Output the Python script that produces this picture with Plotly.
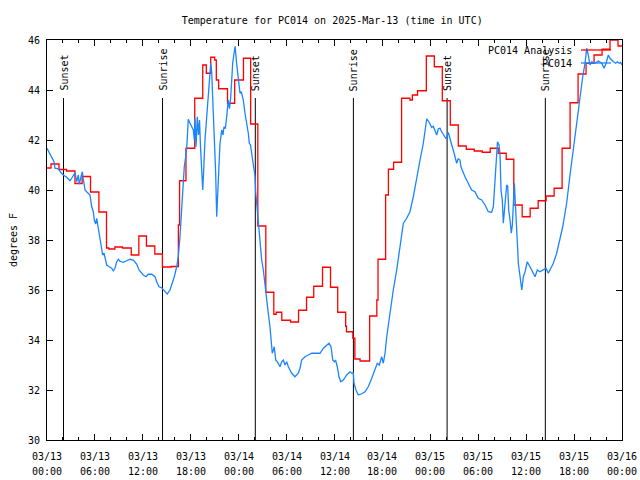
import pandas as pd
import plotly.graph_objects as go

START = pd.Timestamp("2025-03-13 00:00")
END = pd.Timestamp("2025-03-16 00:00")

# Analysis (step series): hours since start where a new value begins, and value
analysis_hours = [0.0, 0.5, 1.5, 2.45, 3.5, 4.4, 5.45, 6.5, 7.45, 7.75, 8.5, 9.45, 10.55, 11.5,
                  12.45, 13.5, 14.45, 15.55, 16.45, 16.6, 17.4, 18.5, 19.5, 19.95, 20.5, 21.0,
                  21.2, 21.5, 22.6, 23.5, 24.6, 25.5, 26.4, 27.4, 28.4, 28.7, 29.4, 30.5, 31.5,
                  32.5, 33.4, 34.5, 35.5, 36.4, 37.4, 37.5, 38.3, 38.55, 39.2, 40.4, 41.3, 41.45,
                  42.4, 42.75, 43.4, 44.4, 45.45, 45.75, 46.4, 47.5, 48.5, 49.5, 50.5, 51.5, 52.5,
                  53.5, 54.5, 55.5, 56.5, 57.5, 58.45, 59.5, 60.5, 61.5, 62.5, 63.5, 64.5, 65.5,
                  66.5, 67.5, 68.5, 69.5, 70.5, 71.5, 72.0]
analysis_temp = [40.88, 41.04, 40.82, 40.76, 40.26, 40.54, 39.92, 39.12, 37.68, 37.64, 37.72, 37.68,
                 37.40, 38.16, 37.76, 37.44, 36.92, 36.94, 38.6, 40.37, 41.67, 43.67, 45.0, 44.67,
                 45.31, 45.2, 44.4, 44.05, 43.47, 44.4, 45.27, 42.64, 38.56, 35.91, 35.03, 35.11,
                 34.79, 34.72, 35.19, 35.71, 36.15, 36.91, 36.11, 35.11, 34.55, 34.33, 34.07, 33.24,
                 33.16, 34.96, 35.6, 37.23, 39.8, 40.83, 41.11, 43.67, 43.6, 43.8, 43.97, 45.36,
                 44.93, 43.57, 42.6, 41.76, 41.63, 41.56, 41.51, 41.67, 41.47, 41.23, 39.4, 38.93,
                 39.27, 39.57, 39.76, 40.07, 41.67, 43.49, 44.64, 45.07, 45.4, 45.63, 46.0, 45.76,
                 45.76]

# Observations
obs_hours = [0.0, 0.25, 0.59, 0.88, 1.0, 1.42, 1.72, 2.04, 2.47, 2.88, 3.09, 3.29, 3.51, 3.72, 3.92,
             4.04, 4.42, 4.57, 4.76, 4.97, 5.38, 5.6, 5.8, 5.92, 6.1, 6.22, 6.35, 6.51, 6.64, 6.85,
             6.97, 7.14, 7.26, 7.48, 7.8, 8.1, 8.3, 8.51, 8.73, 8.93, 9.14, 9.55, 9.98, 10.39, 10.81,
             11.23, 11.52, 12.06, 12.4, 12.68, 13.11, 13.52, 13.74, 14.02, 14.36, 14.56, 14.78,
             15.06, 15.4, 15.69, 15.94, 16.24, 16.44, 16.65, 16.87, 17.07, 17.19, 17.37, 17.49,
             17.62, 17.69, 17.91, 18.12, 18.32, 18.45, 18.53, 18.66, 18.82, 18.97, 19.1, 19.22,
             19.37, 19.5, 19.62, 19.78, 20.0, 20.2, 20.41, 20.5, 20.62, 20.7, 20.82, 20.95, 21.12,
             21.25, 21.37, 21.5, 21.66, 21.88, 22.04, 22.16, 22.33, 22.5, 22.7, 22.85, 23.0, 23.13,
             23.25, 23.42, 23.56, 23.73, 23.83, 23.96, 24.17, 24.33, 24.58, 24.79, 25.01, 25.21,
             25.33, 25.48, 25.63, 25.8, 25.92, 26.05, 26.13, 26.26, 26.46, 26.67, 26.88, 27.09,
             27.3, 27.51, 27.71, 27.92, 28.05, 28.21, 28.34, 28.46, 28.64, 28.96, 29.18, 29.39,
             29.59, 29.8, 30.01, 30.22, 30.64, 31.05, 31.47, 31.68, 31.89, 32.31, 32.72, 33.15,
             33.56, 34.19, 34.6, 35.02, 35.31, 35.56, 35.78, 35.98, 36.13, 36.35, 36.56, 36.78,
             37.1, 37.53, 37.94, 38.2, 38.36, 38.44, 38.69, 38.98, 39.41, 39.82, 40.23, 40.66,
             41.07, 41.36, 41.61, 41.91, 42.11, 42.33, 42.54, 42.86, 43.16, 43.36, 43.79, 44.12,
             44.42, 44.62, 45.04, 45.45, 45.87, 46.29, 46.71, 47.12, 47.33, 47.55, 47.87, 48.17,
             48.37, 48.59, 48.8, 49.0, 49.21, 49.42, 49.71, 49.96, 50.25, 50.46, 50.68, 50.87,
             51.09, 51.3, 51.5, 51.71, 51.83, 52.04, 52.34, 52.75, 53.17, 53.59, 54.0, 54.43,
             54.85, 55.26, 55.68, 55.89, 56.1, 56.31, 56.41, 56.6, 56.72, 56.85, 57.01, 57.14,
             57.26, 57.44, 57.56, 57.69, 57.81, 57.98, 58.14, 58.27, 58.39, 58.52, 58.64, 58.77,
             58.9, 59.02, 59.15, 59.32, 59.45, 59.65, 59.86, 60.14, 60.39, 60.69, 61.11, 61.4,
             61.73, 62.15, 62.48, 62.77, 63.07, 63.4, 63.82, 64.24, 64.58, 64.86, 65.08, 65.49,
             65.91, 66.33, 66.74, 67.08, 67.37, 67.58, 67.78, 67.99, 68.21, 68.62, 69.04, 69.46,
             69.75, 70.0, 70.29, 70.5, 70.92, 71.21, 71.41, 71.66, 71.84, 72.0]
obs_temp = [41.67, 41.53, 41.33, 41.13, 40.87, 40.85, 40.71, 40.6, 40.51, 40.37, 40.47, 40.6, 40.69,
            40.33, 40.6, 40.24, 40.73, 40.4, 40.0, 39.93, 39.8, 39.33, 39.13, 38.8, 38.64, 38.87,
            38.6, 38.4, 38.0, 37.73, 37.4, 37.47, 37.27, 37.0, 36.93, 36.87, 36.77, 36.87, 37.13,
            37.23, 37.15, 37.11, 37.17, 37.23, 37.2, 37.04, 36.8, 36.6, 36.53, 36.63, 36.63, 36.53,
            36.33, 36.13, 36.09, 36.03, 35.93, 35.84, 36.0, 36.24, 36.53, 36.93, 37.33, 38.13,
            39.2, 39.93, 40.93, 41.33, 41.67, 42.4, 42.83, 42.67, 42.53, 42.4, 42.0, 42.87, 41.73,
            42.93, 42.2, 42.8, 41.73, 40.67, 40.0, 40.8, 42.0, 42.93, 43.87, 44.8, 45.07, 44.73,
            44.13, 43.33, 42.4, 40.67, 38.93, 40.0, 41.07, 41.87, 42.4, 42.2, 42.53, 42.45, 42.93,
            43.6, 43.25, 43.7, 44.4, 45.07, 45.47, 45.75, 45.1, 44.8, 44.27, 43.87, 43.93, 43.6,
            43.07, 42.67, 42.27, 41.87, 41.8, 41.47, 41.0, 40.8, 40.53, 39.93, 39.4, 38.53, 37.73,
            37.2, 36.8, 36.13, 35.73, 35.07, 34.53, 34.13, 33.47, 33.6, 33.73, 33.2, 33.07, 32.93,
            33.13, 33.2, 33.0, 33.13, 32.93, 32.67, 32.53, 32.67, 32.87, 33.2, 33.33, 33.4, 33.47,
            33.47, 33.47, 33.67, 33.8, 33.87, 33.73, 33.2, 33.13, 33.2, 32.93, 32.53, 32.33, 32.4,
            32.6, 32.73, 32.67, 32.67, 32.27, 32.0, 31.8, 31.85, 31.93, 32.13, 32.47, 32.87, 33.07,
            33.0, 33.33, 33.07, 33.47, 34.13, 34.93, 35.47, 36.0, 36.8, 37.6, 38.4, 38.67, 38.87,
            39.13, 39.73, 40.53, 41.2, 41.87, 42.4, 42.85, 42.7, 42.5, 42.55, 42.4, 42.2, 42.45,
            42.47, 42.33, 42.2, 42.05, 42.3, 42.0, 41.8, 41.6, 41.33, 41.07, 41.25, 41.2, 40.93,
            40.73, 40.53, 40.27, 40.0, 39.93, 39.67, 39.6, 39.4, 39.13, 39.11, 39.33, 40.4, 41.6,
            41.93, 41.8, 41.47, 40.0, 39.6, 38.67, 39.07, 39.87, 40.2, 40.15, 39.2, 38.8, 38.27,
            38.6, 39.33, 40.27, 39.5, 38.27, 37.87, 37.07, 36.67, 36.27, 36.0, 36.53, 36.73, 37.13,
            37.0, 36.8, 36.53, 36.8, 36.73, 36.8, 36.87, 36.67, 36.87, 37.07, 37.47, 38.0, 38.53,
            39.07, 39.5, 40.6, 41.67, 42.73, 43.67, 44.53, 45.07, 45.67, 45.4, 45.0, 45.13, 45.07,
            45.16, 45.07, 44.87, 45.07, 45.4, 45.27, 45.13, 45.07, 45.13, 45.07, 45.1, 45.0]

sunset_times = ["2025-03-13 02:04", "2025-03-14 02:05", "2025-03-15 02:06"]
sunrise_times = ["2025-03-13 14:28", "2025-03-14 14:22", "2025-03-15 14:24"]

# x tick labels every 6 hours (date line / time line)
x_tick_times = list(pd.date_range(START, END, freq="6h"))
x_tick_dates = [t.strftime("%m/%d") for t in x_tick_times]
x_tick_clock = [t.strftime("%H:%M") for t in x_tick_times]

TITLE = "Temperature for PC014 on 2025-Mar-13 (time in UTC)"
Y_LABEL = "degrees F"
SERIES_NAMES = ["PC014 Analysis", "PC014"]

RED = "#ff0000"
BLUE = "#1a85ff"
FONT = "DejaVu Sans Mono"
TXT = dict(family=FONT, size=10, color="black")


def to_dt(hours):
    return [START + pd.Timedelta(hours=h) for h in hours]


fig = go.Figure()
fig.add_trace(go.Scatter(x=to_dt(analysis_hours), y=analysis_temp, mode="lines",
                         line=dict(color=RED, width=1.3, shape="hv"),
                         name=SERIES_NAMES[0], showlegend=False))
fig.add_trace(go.Scatter(x=to_dt(obs_hours), y=obs_temp, mode="lines",
                         line=dict(color=BLUE, width=1.3),
                         name=SERIES_NAMES[1], showlegend=False))

shapes = []
annotations = []
LINE_TOP = 0.855
for label, times in (("Sunset", sunset_times), ("Sunrise", sunrise_times)):
    for t in times:
        shapes.append(dict(type="line", xref="x", yref="paper", x0=t, x1=t, y0=0, y1=LINE_TOP,
                           line=dict(color="black", width=1), layer="below"))
        annotations.append(dict(x=t, xref="x", y=0.8675, yref="paper", text=label,
                                textangle=-90, xanchor="center", yanchor="bottom",
                                showarrow=False, xshift=1, font=TXT))

for t, d, c in zip(x_tick_times, x_tick_dates, x_tick_clock):
    annotations.append(dict(x=t, xref="x", y=0, yref="paper", text=d, xanchor="center",
                            yanchor="middle", yshift=-16, showarrow=False, font=TXT))
    annotations.append(dict(x=t, xref="x", y=0, yref="paper", text=c, xanchor="center",
                            yanchor="middle", yshift=-31, showarrow=False, font=TXT))

# key (text right, sample line to its right, gnuplot style)
key_y = [0.975, 0.9425]
for name, col, ky in zip(SERIES_NAMES, [RED, BLUE], key_y):
    annotations.append(dict(x=0.9165, xref="paper", y=ky, yref="paper", text=name,
                            xanchor="right", yanchor="middle", showarrow=False, font=TXT))
    shapes.append(dict(type="line", xref="paper", yref="paper", x0=0.9287, x1=0.9809,
                       y0=ky, y1=ky, line=dict(color=col, width=1.3)))

fig.update_layout(
    width=640, height=480,
    margin=dict(l=47, r=18, t=40, b=40, autoexpand=False),
    paper_bgcolor="white", plot_bgcolor="white",
    font=TXT,
    title=dict(text=TITLE, x=0.519, xanchor="center", y=1 - 20 / 480, yanchor="middle",
               yref="container", font=TXT),
    shapes=shapes, annotations=annotations,
    showlegend=False,
)
fig.update_xaxes(
    type="date", range=[START, END], tick0=START, dtick=6 * 3600 * 1000,
    showticklabels=False, ticks="inside", ticklen=6, tickcolor="black",
    showline=True, linecolor="black", linewidth=1, mirror="ticks",
    showgrid=False, zeroline=False, automargin=False,
    minor=dict(dtick=2 * 3600 * 1000, ticks="inside", ticklen=3, tickcolor="black", showgrid=False),
)
fig.update_yaxes(
    range=[30, 46], dtick=2, ticks="inside", ticklen=6, tickcolor="black",
    showline=True, linecolor="black", linewidth=1, mirror="ticks",
    showgrid=False, zeroline=False, automargin=False, ticklabelstandoff=4,
    title=dict(text=Y_LABEL, standoff=8, font=TXT),
)

fig.write_html("out.html", config={"displayModeBar": False, "staticPlot": True},
               post_script="document.body.style.margin='0';")
